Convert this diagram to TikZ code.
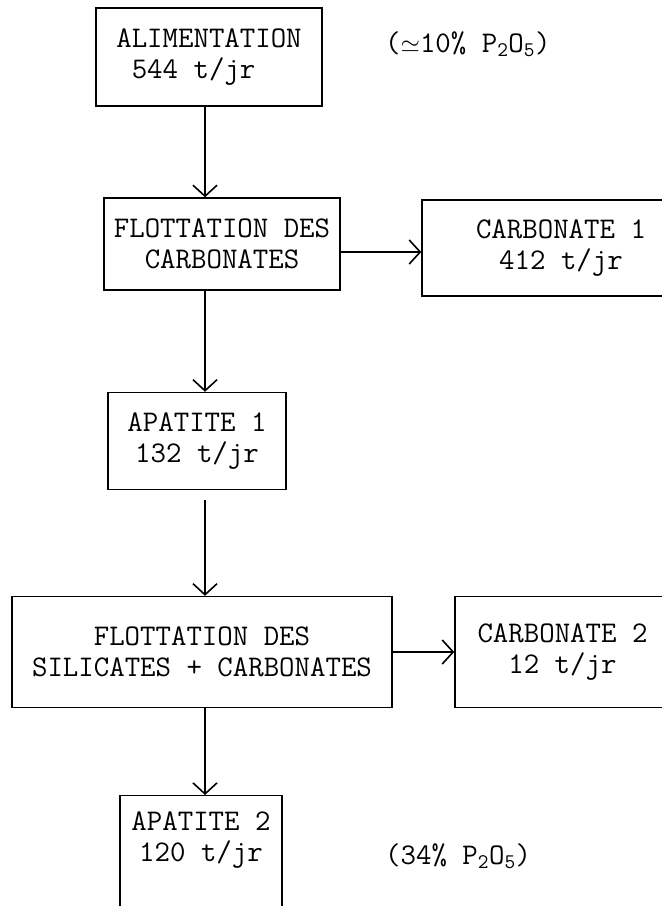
\documentclass[tikz,border=0pt]{standalone}
\usetikzlibrary{arrows.meta}
\begin{document}
\begin{tikzpicture}[x=1pt,y=-1pt,
  tw/.style={font=\fontsize{30}{31}\selectfont\ttfamily},
  box/.style={draw, line width=1.4pt, inner sep=0pt, tw, align=center},
  plain/.style={inner sep=0pt, tw, align=center},
  note/.style={inner sep=0pt, tw, anchor=west},
  flow/.style={line width=1.4pt, -{Straight Barb[length=11pt,width=24pt,line width=1.6pt]}}]
\useasboundingbox (0,0) rectangle (662,906);
\clip (0,0) rectangle (662,906);
\node[box, align=left, minimum width=226, minimum height=98] (a) at (209,57) {ALIMENTATION\\\ 544 t/jr};
\node[note] (n1) at (385,44) {(${\simeq}$10\% P$_{\mathtt{2}}$O$_{\mathtt{5}}$)};
\node[box, minimum width=236, minimum height=92] (f1) at (222,244) {FLOTTATION DES\\CARBONATES};
\node[box, minimum width=278, minimum height=96] (c1) at (561,248) {CARBONATE 1\\412 t/jr};
\node[box, minimum width=178, minimum height=97] (ap1) at (197,441) {APATITE 1\\132 t/jr};
\node[box, minimum width=380, minimum height=111] (f2) at (202,652) {FLOTTATION DES\\SILICATES + CARBONATES};
\node[box, minimum width=215, minimum height=111] (c2) at (562.5,652) {CARBONATE 2\\12 t/jr};
\node[draw, line width=1.4pt, minimum width=162, minimum height=140, anchor=north] (ap2) at (201,795) {};
\node[plain] (ap2t) at (201,840) {APATITE 2\\120 t/jr};
\node[note] (n2) at (385,856) {(34\% P$_{\mathtt{2}}$O$_{\mathtt{5}}$)};
\draw[flow] ([xshift=-4pt]a.south) -- ([xshift=-4pt]a.south |- f1.north);
\draw[flow] ([yshift=-8pt]f1.east) -- ([yshift=-8pt]f1.east -| c1.west);
\draw[flow] ([xshift=-17pt]f1.south) -- ([xshift=-17pt]f1.south |- ap1.north);
\draw[flow] ([shift={(8pt,-10pt)}]ap1.south) -- ([xshift=8pt]ap1.south |- f2.north);
\draw[flow] (f2.east) -- (f2.east -| c2.west);
\draw[flow] ([xshift=3pt]f2.south) -- ([xshift=3pt]f2.south |- ap2.north);
\end{tikzpicture}
\end{document}
